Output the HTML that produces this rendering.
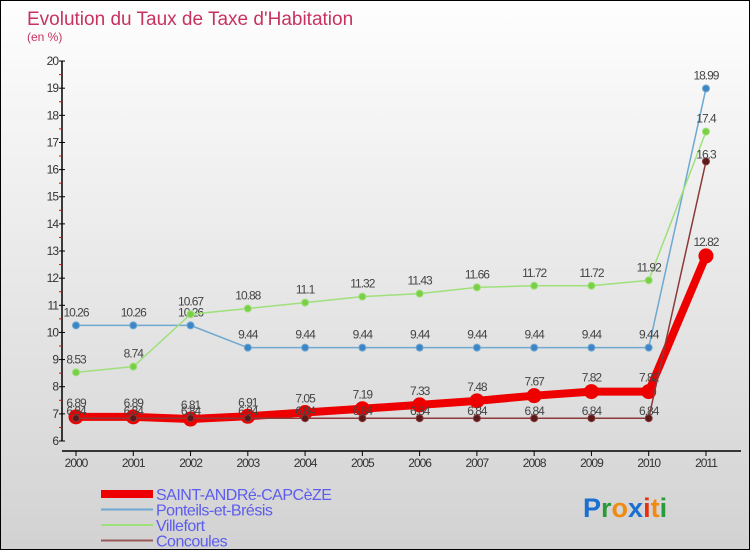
<!DOCTYPE html>
<html><head><meta charset="utf-8">
<style>
body{margin:0}
#c{position:relative;width:750px;height:550px;box-sizing:border-box;border:1px solid #000;background:linear-gradient(#fefefe,#d2d2d2);font-family:"Liberation Sans",sans-serif;overflow:hidden}
svg{position:absolute;left:0;top:0}
</style></head><body>
<div id="c">
<svg id="s" width="750" height="550"></svg>
</div>
<script>
const years=["2000","2001","2002","2003","2004","2005","2006","2007","2008","2009","2010","2011"];
const saint=[6.89,6.89,6.81,6.91,7.05,7.19,7.33,7.48,7.67,7.82,7.82,12.82];
const ponteils=[10.26,10.26,10.26,9.44,9.44,9.44,9.44,9.44,9.44,9.44,9.44,18.99];
const villefort=[8.53,8.74,10.67,10.88,11.1,11.32,11.43,11.66,11.72,11.72,11.92,17.4];
const concoules=[6.84,6.84,6.84,6.84,6.84,6.84,6.84,6.84,6.84,6.84,6.84,16.3];
const yTicks=[6,7,8,9,10,11,12,13,14,15,16,17,18,19,20];
const NS="http://www.w3.org/2000/svg",s=document.getElementById('s');
const X=i=>75+i*57.27, Y=v=>440-(v-6)*27.14;
function el(t,a,p){const e=document.createElementNS(NS,t);for(const k in a)e.setAttribute(k,a[k]);(p||s).appendChild(e);return e;}
function txt(x,y,str,a){const e=el('text',Object.assign({x:x,y:y},a));e.textContent=str;return e;}
let t=txt(26,24,"Evolution du Taux de Taxe d'Habitation",{'font-size':19,fill:'#c8325f'});


t=txt(26,40,"(en %)",{'font-size':12,fill:'#c8325f'});


let ax=el('line',{x1:61,y1:Y(20),x2:61,y2:Y(6),stroke:'#000','stroke-width':1.5});


yTicks.forEach(v=>{
 el('line',{x1:58,x2:64,y1:Y(v),y2:Y(v),stroke:'#000'});
 if(v<20)el('line',{x1:58,x2:61,y1:Y(v+0.5),y2:Y(v+0.5),stroke:'#e00'});
 let l=txt(57,Y(v)+4,String(v),{'font-size':12,fill:'#333','text-anchor':'end','letter-spacing':'-1'});
 
 
});
ax=el('line',{x1:61,y1:450,x2:740,y2:450,stroke:'#000','stroke-width':1.5});


years.forEach((y,i)=>{
 el('line',{x1:X(i),x2:X(i),y1:450,y2:455,stroke:'#000'});
 let l=txt(X(i),466,y,{'font-size':12,fill:'#333','text-anchor':'middle','letter-spacing':'-1'});
 
 
});
function series(vals,color,w,r,dot,name,lblDy){
 const g=el('g',{});
 
 
 el('polyline',{points:vals.map((v,i)=>X(i)+','+Y(v)).join(' '),fill:'none',stroke:color,'stroke-width':w,'stroke-linejoin':'round'},g);
 vals.forEach((v,i)=>{
  const c=el('circle',{cx:X(i),cy:Y(v),r:r,fill:dot,stroke:color,'stroke-width':1},g);
  
  
  const l=txt(X(i),Y(v)+lblDy,String(v),{'font-size':12,fill:'#444','text-anchor':'middle','letter-spacing':'-1'},g);
  
  
 });
}
series(ponteils,'#6fa8d0',1.5,3.5,'#3d85c6','ponteils-series',-9);
series(villefort,'#9ee07a',1.5,3.5,'#79d046','villefort-series',-9);
series(saint,'#ee0000',8,7,'#ee0000','saint-andre-series',-10);
series(concoules,'#8b3a3a',1.5,3.5,'#5a1a1a','concoules-series',-3);
const leg=[["SAINT-ANDRé-CAPCèZE","#ee0000",8],["Ponteils-et-Brésis","#6fa8d0",2],["Villefort","#9ee07a",2],["Concoules","#9a5a5a",2]];
leg.forEach((L,i)=>{
 const y=493+i*15.5;
 const g=el('g',{});
 
 
 el('line',{x1:100,x2:152,y1:y,y2:y,stroke:L[1],'stroke-width':L[2]},g);
 txt(155,y+6,L[0],{'font-size':16,fill:'#5c5cee','letter-spacing':'-0.5'},g);
});
const lg=el('text',{x:582,y:516,'font-size':27,'font-weight':'bold','font-family':'Liberation Sans,sans-serif'});


[["P","#1a6fd0"],["r","#2a9a3a"],["o","#f08a10"],["x","#1a6fd0"],["i","#e83010"],["t","#f08a10"],["i","#2a9a3a"]].forEach(p=>{const ts=el('tspan',{fill:p[1]},lg);ts.textContent=p[0];});
</script>
</body></html>
